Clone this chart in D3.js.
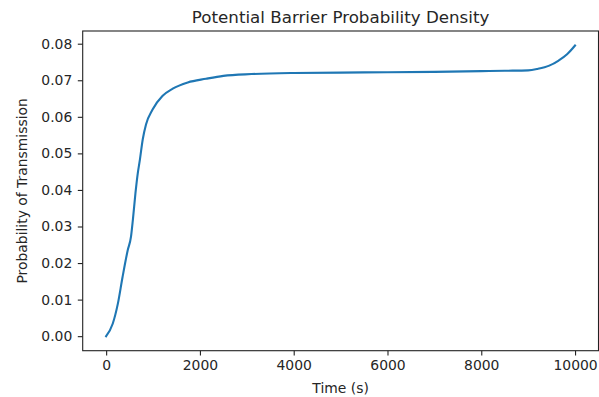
<!DOCTYPE html>
<html>
<head>
<meta charset="utf-8">
<script src="https://cdn.jsdelivr.net/npm/d3@7"></script>
<style>
  html, body { margin: 0; padding: 0; background: #fff; }
  svg { display: block; font-family: "DejaVu Sans", sans-serif; }
</style>
</head>
<body>
<svg id="chart"></svg>
<script>
// Values
const times = [0, 140, 250, 350, 460, 530, 570, 625, 675, 720, 780, 850, 990, 1200,
  1420, 1740, 2130, 2500, 3100, 4000, 5000, 6000, 7000, 8000,
  8500, 9000, 9200, 9450, 9650, 9830, 10000];
const probs = [0, 0.0034, 0.0089, 0.0162, 0.0235, 0.0272, 0.0318, 0.0391, 0.0446, 0.0483,
  0.0538, 0.0579, 0.0620, 0.0657, 0.0677, 0.0694, 0.0704, 0.0712, 0.0717, 0.0720,
  0.0721, 0.0722, 0.0723, 0.0725, 0.0726, 0.0727, 0.0731, 0.0740, 0.0754, 0.0771, 0.0795];
const xTicks = [0, 2000, 4000, 6000, 8000, 10000];
const yTicks = [0, 0.01, 0.02, 0.03, 0.04, 0.05, 0.06, 0.07, 0.08];

const data = times.map((t, i) => ({ t: t, p: probs[i] }));

const width = 599;
const height = 397;
const plot = { left: 82.7, right: 598.5, top: 31, bottom: 350.7 };

const svg = d3.select('#chart')
  .attr('width', width)
  .attr('height', height);

// matplotlib-style 5% margins
const tMin = d3.min(times), tMax = d3.max(times);
const pMin = d3.min(probs), pMax = d3.max(probs);
const tPad = (tMax - tMin) * 0.05;
const pPad = (pMax - pMin) * 0.05;

const x = d3.scaleLinear()
  .domain([tMin - tPad, tMax + tPad])
  .range([plot.left, plot.right]);

const y = d3.scaleLinear()
  .domain([pMin - pPad, pMax + pPad])
  .range([plot.bottom, plot.top]);

const textColor = '#262626';
const tickLen = 4.9;

// x axis
const xAxis = svg.append('g')
  .attr('transform', `translate(0,${plot.bottom})`)
  .call(d3.axisBottom(x).tickValues(xTicks).tickSize(tickLen).tickPadding(4.5)
    .tickFormat(d3.format('d')));
xAxis.select('.domain').remove();
xAxis.selectAll('line').attr('stroke', '#222').attr('stroke-width', 1.1);
xAxis.selectAll('text').attr('fill', textColor).attr('font-size', '13.9px')
  .attr('font-family', '"DejaVu Sans", sans-serif');

// y axis
const yAxis = svg.append('g')
  .attr('transform', `translate(${plot.left},0)`)
  .call(d3.axisLeft(y).tickValues(yTicks).tickSize(tickLen).tickPadding(5.5)
    .tickFormat(d3.format('.2f')));
yAxis.select('.domain').remove();
yAxis.selectAll('line').attr('stroke', '#222').attr('stroke-width', 1.1);
yAxis.selectAll('text').attr('fill', textColor).attr('font-size', '13.9px')
  .attr('font-family', '"DejaVu Sans", sans-serif');

// line
const line = d3.line()
  .x(d => x(d.t))
  .y(d => y(d.p))
  .curve(d3.curveMonotoneX);

svg.append('path')
  .datum(data)
  .attr('fill', 'none')
  .attr('stroke', '#1f77b4')
  .attr('stroke-width', 2.1)
  .attr('stroke-linejoin', 'round')
  .attr('stroke-linecap', 'square')
  .attr('d', line);

// frame
svg.append('rect')
  .attr('x', plot.left)
  .attr('y', plot.top)
  .attr('width', plot.right - plot.left)
  .attr('height', plot.bottom - plot.top)
  .attr('fill', 'none')
  .attr('stroke', '#222')
  .attr('stroke-width', 1.1);

// title and labels
svg.append('text')
  .attr('x', (plot.left + plot.right) / 2)
  .attr('y', 22.7)
  .attr('text-anchor', 'middle')
  .attr('font-size', '16.7px')
  .attr('fill', textColor)
  .text('Potential Barrier Probability Density');

svg.append('text')
  .attr('x', (plot.left + plot.right) / 2)
  .attr('y', 392.5)
  .attr('text-anchor', 'middle')
  .attr('font-size', '13.9px')
  .attr('fill', textColor)
  .text('Time (s)');

svg.append('text')
  .attr('transform', `translate(26.5,${(plot.top + plot.bottom) / 2}) rotate(-90)`)
  .attr('text-anchor', 'middle')
  .attr('font-size', '13.9px')
  .attr('fill', textColor)
  .text('Probability of Transmission');
</script>
</body>
</html>
